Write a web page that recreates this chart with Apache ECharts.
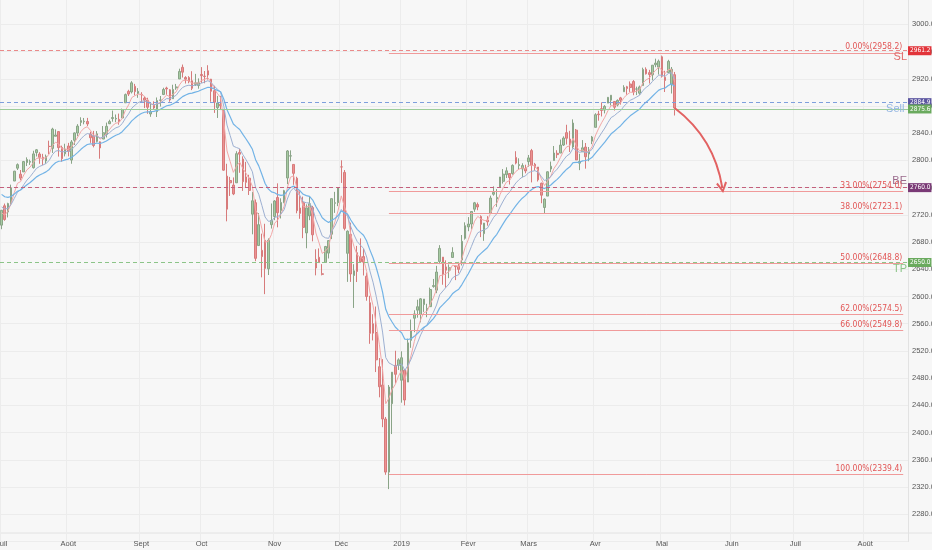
<!DOCTYPE html>
<html><head><meta charset="utf-8">
<script src="https://cdn.jsdelivr.net/npm/echarts@6/dist/echarts.min.js"></script>
<style>html,body{margin:0;padding:0;background:#f7f7f7}#c{width:932px;height:550px}</style>
</head><body><div id="c"></div>
<script>
// ---- warm-up closes (June 2018) used only for the moving averages ----
const jun2018Closes = [2734.6,2746.9,2748.8,2772.4,2770.4,2779.0,2782.0,2786.9,2775.6,2782.5,2779.7,2773.8,2762.6,2767.3,2749.8,2754.9,2717.1,2723.1,2699.6,2716.3,2718.4];

// ---- daily candles [open, close, low, high] ----
const jul2018 = [[2704.9,2726.7,2698.9,2727.3],[2733.3,2713.2,2711.3,2736.6],[2724.2,2736.6,2716.2,2737.8],[2737.7,2759.8,2733.3,2764.4],[2769.7,2784.2,2769.7,2784.7],[2788.6,2793.8,2785.9,2795.6],[2779.8,2774.0,2770.8,2785.9],[2783.1,2798.3,2783.1,2799.2],[2796.9,2801.3,2791.7,2804.5],[2797.4,2798.4,2793.4,2801.2],[2789.3,2809.6,2788.0,2814.2],[2811.4,2815.6,2805.8,2816.8],[2809.4,2804.5,2795.1,2812.1],[2804.6,2801.8,2793.2,2809.7],[2799.2,2806.0,2795.1,2808.6],[2820.7,2820.4,2809.4,2829.0],[2817.7,2846.1,2811.0,2848.0],[2835.5,2837.4,2835.5,2845.6],[2842.4,2818.8,2805.6,2843.2],[2819.0,2802.6,2798.1,2821.7],[2809.7,2816.3,2805.9,2824.5]];
const aug2018 = [[2821.2,2813.4,2805.9,2825.8],[2800.5,2827.2,2795.1,2829.9],[2829.6,2840.4,2822.6,2841.0],[2840.3,2850.4,2835.6,2853.3],[2855.9,2858.5,2850.6,2863.4],[2856.8,2857.7,2853.1,2862.4],[2857.2,2853.6,2850.5,2862.5],[2838.9,2833.3,2825.8,2842.2],[2835.5,2821.9,2819.2,2843.4],[2827.9,2839.1,2826.6,2843.1],[2827.3,2818.4,2802.5,2827.9],[2831.4,2840.7,2831.4,2850.5],[2838.3,2850.1,2833.7,2855.6],[2853.9,2857.1,2853.4,2859.8],[2861.5,2863.0,2856.9,2873.2],[2860.9,2861.8,2856.2,2867.5],[2860.3,2857.0,2852.5,2868.8],[2862.4,2874.7,2862.4,2876.2],[2884.7,2896.7,2884.7,2898.3],[2901.5,2897.5,2894.6,2903.8],[2900.6,2914.0,2898.4,2916.5],[2908.9,2901.1,2895.6,2912.5],[2898.4,2901.5,2892.0,2906.3]];
const sep2018 = [[2896.9,2896.7,2885.3,2900.2],[2891.6,2888.6,2876.9,2894.2],[2888.6,2878.1,2868.5,2892.1],[2868.3,2871.7,2864.1,2883.8],[2881.4,2877.1,2874.0,2886.9],[2871.6,2887.9,2863.8,2892.5],[2888.3,2888.9,2879.2,2894.7],[2896.9,2904.2,2896.0,2906.8],[2906.4,2905.0,2896.4,2908.3],[2903.8,2888.8,2886.2,2904.7],[2890.7,2904.3,2890.4,2911.2],[2906.6,2908.0,2903.8,2912.4],[2919.7,2930.8,2919.7,2934.8],[2936.8,2929.7,2921.8,2940.9],[2921.8,2919.4,2913.0,2923.8],[2921.8,2915.6,2913.4,2923.8],[2917.0,2906.0,2903.3,2931.1],[2911.7,2914.0,2909.4,2927.2],[2910.0,2914.0,2905.4,2920.5]];
const oct2018 = [[2926.3,2924.6,2913.9,2937.1],[2923.8,2923.4,2913.4,2931.4],[2931.7,2925.5,2918.8,2939.9],[2919.4,2901.6,2886.2,2919.8],[2902.5,2885.6,2869.8,2909.6],[2877.5,2884.4,2862.4,2894.8],[2882.5,2880.3,2874.0,2894.8],[2873.9,2785.7,2784.9,2874.0],[2776.9,2728.4,2710.5,2795.1],[2770.5,2767.1,2747.8,2775.8],[2763.8,2750.8,2749.0,2775.0],[2767.1,2809.9,2767.1,2813.5],[2811.7,2809.2,2781.8,2816.9],[2802.0,2768.8,2755.2,2806.0],[2775.7,2767.8,2760.3,2797.8],[2773.9,2755.9,2749.2,2778.9],[2721.0,2740.7,2691.4,2753.6],[2737.9,2656.1,2651.9,2742.6],[2674.9,2705.6,2674.9,2722.7],[2667.9,2658.7,2628.2,2692.4],[2682.7,2641.3,2603.5,2706.9],[2640.7,2682.6,2631.6,2685.4],[2705.6,2711.7,2699.9,2736.7]];
const nov2018 = [[2717.6,2740.4,2712.2,2741.7],[2745.5,2723.1,2701.7,2766.3],[2726.4,2738.3,2714.7,2744.3],[2738.4,2755.5,2737.1,2756.8],[2774.1,2813.9,2765.1,2815.2],[2806.4,2806.8,2798.8,2814.8],[2794.1,2781.0,2764.2,2794.1],[2773.9,2726.2,2722.3,2776.0],[2730.1,2722.2,2714.2,2754.6],[2737.9,2701.6,2685.7,2746.8],[2693.5,2730.2,2670.9,2735.4],[2718.5,2736.3,2712.2,2746.8],[2730.7,2690.7,2681.1,2733.2],[2654.6,2641.9,2631.1,2669.4],[2657.7,2649.9,2649.9,2670.7],[2633.4,2632.6,2631.1,2647.6],[2650.0,2673.5,2650.0,2674.4],[2663.8,2682.2,2655.9,2682.5],[2691.5,2743.8,2684.4,2744.0],[2737.0,2737.8,2722.9,2753.8],[2737.8,2760.2,2732.8,2760.9]];
const dec2018 = [[2790.5,2790.4,2766.9,2800.2],[2782.4,2700.1,2697.2,2785.9],[2663.5,2696.0,2621.5,2697.2],[2691.3,2633.1,2621.5,2708.5],[2630.9,2637.7,2583.2,2647.5],[2664.4,2636.8,2621.3,2674.4],[2658.2,2651.1,2650.3,2685.4],[2658.7,2650.5,2630.9,2670.2],[2629.7,2600.0,2593.8,2635.1],[2590.8,2545.9,2530.5,2601.1],[2559.9,2546.2,2535.5,2574.0],[2547.1,2507.0,2489.0,2585.3],[2496.8,2467.4,2451.9,2509.6],[2470.0,2420.0,2408.0,2508.0],[2420.0,2342.0,2338.0,2423.0],[2342.0,2467.0,2317.0,2470.0],[2442.5,2488.8,2397.9,2489.1],[2498.8,2485.7,2472.9,2520.3],[2498.9,2506.9,2492.1,2509.2]];
const jan2019 = [[2477.0,2510.0,2444.0,2519.5],[2491.9,2447.9,2440.0,2493.1],[2474.3,2531.9,2474.3,2538.1],[2535.6,2549.7,2524.6,2566.2],[2568.1,2574.4,2547.6,2579.8],[2580.0,2585.0,2568.9,2595.3],[2573.5,2596.6,2562.0,2597.8],[2588.1,2596.3,2577.4,2596.3],[2580.3,2582.6,2569.6,2589.3],[2585.1,2610.3,2585.1,2613.1],[2614.8,2616.1,2612.9,2625.8],[2609.3,2636.0,2604.9,2645.1],[2651.3,2670.7,2647.6,2675.5],[2657.9,2632.9,2617.3,2657.9],[2643.5,2638.7,2612.9,2653.2],[2638.8,2642.3,2627.0,2647.2],[2657.4,2664.8,2657.4,2672.4],[2645.0,2643.9,2624.1,2645.0],[2644.9,2640.0,2634.2,2650.9],[2653.6,2681.1,2645.6,2690.4],[2685.5,2704.1,2683.6,2709.0]];
const feb2019 = [[2702.3,2706.5,2696.0,2716.7],[2706.5,2724.9,2698.8,2725.0],[2728.3,2737.7,2724.4,2739.0],[2735.1,2731.6,2726.8,2738.1],[2717.5,2706.1,2687.3,2719.3],[2692.4,2707.9,2681.8,2708.1],[2712.4,2709.8,2704.1,2718.1],[2722.6,2744.7,2722.6,2748.2],[2750.3,2753.0,2748.2,2761.9],[2743.5,2745.7,2731.8,2757.9],[2760.2,2775.6,2760.2,2775.7],[2769.3,2779.8,2766.0,2787.3],[2779.1,2784.7,2774.1,2789.9],[2780.7,2774.9,2764.6,2781.5],[2780.7,2792.7,2779.0,2794.2],[2804.4,2796.1,2794.2,2813.5],[2792.4,2793.9,2786.0,2803.1],[2787.5,2792.4,2775.1,2795.8],[2788.1,2784.5,2781.1,2793.7]];
const mar2019 = [[2798.2,2803.7,2790.8,2808.0],[2814.4,2792.8,2767.7,2816.9],[2794.4,2789.7,2785.0,2796.4],[2790.3,2771.5,2769.0,2790.3],[2766.5,2748.9,2737.1,2767.3],[2730.8,2743.1,2722.3,2744.1],[2747.6,2783.3,2747.6,2784.0],[2787.3,2791.5,2782.8,2798.3],[2799.8,2810.9,2799.8,2821.2],[2810.4,2808.5,2803.5,2815.0],[2810.8,2822.5,2810.8,2830.7],[2822.6,2832.9,2821.2,2835.4],[2840.8,2832.6,2823.4,2852.4],[2831.3,2824.2,2812.4,2843.5],[2819.7,2854.9,2817.4,2860.3],[2844.5,2800.7,2800.5,2846.2],[2796.0,2798.4,2785.7,2809.8],[2812.7,2818.5,2812.7,2829.9],[2819.7,2805.4,2787.9,2825.6],[2809.4,2815.4,2798.8,2819.7],[2828.3,2834.4,2823.9,2836.0]];
const apr2019 = [[2848.6,2867.2,2848.6,2869.4],[2868.2,2867.2,2858.4,2872.9],[2876.1,2873.4,2864.6,2885.3],[2874.0,2879.4,2869.1,2881.3],[2884.2,2892.7,2884.2,2893.2],[2888.5,2895.8,2880.8,2896.0],[2886.6,2878.2,2873.3,2886.9],[2881.4,2888.2,2879.4,2889.7],[2891.9,2888.3,2882.0,2893.4],[2900.9,2907.4,2900.9,2910.5],[2908.3,2905.6,2896.5,2909.6],[2912.3,2907.1,2900.7,2916.1],[2916.0,2900.5,2895.8,2918.0],[2904.8,2905.0,2896.0,2908.4],[2898.8,2908.0,2896.4,2910.0],[2910.0,2933.7,2910.0,2936.3],[2934.0,2927.3,2926.2,2936.8],[2929.0,2926.2,2913.0,2933.1],[2925.8,2939.9,2917.6,2939.9],[2940.6,2943.0,2937.0,2949.5],[2937.1,2945.8,2926.2,2948.2]];
const may2019 = [[2952.3,2923.7,2921.8,2954.1],[2922.2,2917.5,2900.5,2931.7],[2929.2,2945.6,2929.2,2947.9],[2912.0,2934.0,2898.3,2937.3],[2926.0,2877.0,2866.0,2930.0]];

// ---- calendar / axis ----
const firstSession = '2018-07-02';
const totalSlots = 286;
const holidays = ['2018-07-04','2018-09-03','2018-11-22','2018-12-05','2018-12-25','2019-01-01','2019-01-21','2019-02-18','2019-04-19','2019-05-27','2019-07-04'];
const monthNames = ['Janv','Févr','Mars','Avr','Mai','Juin','Juil','Août','Sept','Oct','Nov','Déc'];
const emaPeriods = [5, 10, 20];
const emaColors = ['#f2a7a7', '#9db0d2', '#72b3e6'];

// ---- drawings ----
const slLevel = 2961.2, lastLevel = 2884.9, sellLevel = 2875.6, beLevel = 2760.0, tpLevel = 2650.0;
const fibStart = '2018-12-26', fibEnd = '2019-08-19';
const fibPercents = ['0.00%', '33.00%', '38.00%', '50.00%', '62.00%', '66.00%', '100.00%'];
const fibPrices = [2958.2, 2754.0, 2723.1, 2648.8, 2574.5, 2549.8, 2339.4];
const arrowFrom = ['2019-05-07', 2877];
const arrowTo = ['2019-05-29', 2760];

// ---- build ----
const candles = [].concat(jul2018, aug2018, sep2018, oct2018, nov2018, dec2018, jan2019, feb2019, mar2019, apr2019, may2019);
const categories = [];
(function () {
  const p = firstSession.split('-').map(Number);
  const d = new Date(Date.UTC(p[0], p[1] - 1, p[2]));
  while (categories.length < totalSlots) {
    const wd = d.getUTCDay();
    const s = d.toISOString().slice(0, 10);
    if (wd !== 0 && wd !== 6 && holidays.indexOf(s) < 0) categories.push(s);
    d.setUTCDate(d.getUTCDate() + 1);
  }
})();
const monthStarts = new Set();
categories.forEach((c, i) => { if (i === 0 || c.slice(0, 7) !== categories[i - 1].slice(0, 7)) monthStarts.add(i); });
const idx = (d) => categories.indexOf(d);

// exponential moving averages of the closes (warm-up on June closes)
const allCloses = jun2018Closes.concat(candles.map(c => c[1]));
const off = jun2018Closes.length;
function ema(n) {
  const k = 2 / (n + 1);
  let e = 0;
  for (let i = 0; i < n; i++) e += allCloses[i];
  e /= n;
  const out = [];
  for (let i = n; i < allCloses.length; i++) {
    e = allCloses[i] * k + e * (1 - k);
    if (i >= off) out.push(+e.toFixed(2));
  }
  while (out.length < candles.length) out.unshift(null);
  return out;
}

const font = "'Liberation Sans', 'DejaVu Sans', sans-serif";
const narrow = "'Liberation Sans Narrow', 'DejaVu Sans Condensed', 'Liberation Sans', sans-serif";

function axisTag(v, bg) {
  return { show: true, position: 'end', distance: 0, formatter: v.toFixed(1), color: '#fff', backgroundColor: bg,
           padding: [1, 1, 1, 2], fontSize: 6.5, fontFamily: narrow };
}
function fullLine(v, color, type, tagBg) {
  return { yAxis: v, lineStyle: { color: color, type: type, width: 1 }, label: axisTag(v, tagBg) };
}
function textOnly(v, text, color, pos) {
  return { yAxis: v, lineStyle: { color: 'rgba(0,0,0,0)', width: 0 },
           label: { show: true, position: pos, formatter: text, color: color, opacity: 1,
                    fontSize: 11, fontFamily: font, distance: 1 } };
}

const markData = [
  fullLine(slLevel, '#ea8a8a', [4, 3], '#e2343a'),
  fullLine(lastLevel, '#7e9fdc', [4, 3], '#5b55a0'),
  fullLine(sellLevel, '#9ccc98', 'solid', '#6aaa5e'),
  fullLine(beLevel, '#c4607c', [4, 3], '#7a3a76'),
  fullLine(tpLevel, '#8cc488', [4, 3], '#6aaa5e'),
  textOnly(slLevel, 'SL', '#e06c6c', 'insideEndBottom'),
  textOnly(beLevel, 'BE', '#9a6a8c', 'insideEndTop'),
  textOnly(tpLevel, 'TP', '#8cc488', 'insideEndBottom')
];
fibPrices.forEach((p, i) => {
  markData.push([
    { coord: [idx(fibStart), p], lineStyle: { color: '#f09a9a', type: 'solid', width: 1 },
      label: { show: true, position: 'insideEndTop', formatter: fibPercents[i] + '(' + p.toFixed(1) + ')',
               color: '#e25555', fontSize: 8.5, fontFamily: narrow, distance: 1 } },
    { coord: [idx(fibEnd), p] }
  ]);
});

const series = [{
  type: 'candlestick', data: candles, barWidth: '68%', z: 2,
  itemStyle: { color: '#a6cba2', color0: '#ec9292', borderColor: '#8aa487', borderColor0: '#d77b7b', borderWidth: 1 },
  emphasis: { disabled: true }
}];
emaPeriods.forEach((n, i) => {
  series.push({ type: 'line', data: ema(n), showSymbol: false, symbol: 'none', z: 3,
    lineStyle: { color: emaColors[i], width: n === 20 ? 1.2 : 1 }, emphasis: { disabled: true } });
});
series.push({ type: 'line', data: [], clip: false, z: 4,
  markLine: { silent: true, animation: false, symbol: ['none', 'none'], data: markData },
  markPoint: { silent: true, animation: false, symbol: 'circle', symbolSize: 0,
    data: [{ coord: [categories.length - 1, sellLevel],
             label: { show: true, position: 'left', distance: 2, formatter: 'Sell', color: '#93b6e2',
                      fontSize: 11, fontFamily: font } }] } });
series.push({ type: 'lines', coordinateSystem: 'cartesian2d', z: 5, silent: true,
  symbol: ['none', 'path://M0,9 L5,0 L10,9 L8.4,10 L5,3.6 L1.6,10 Z'], symbolSize: [10, 11],
  lineStyle: { color: '#e26262', width: 2, curveness: 0.2, opacity: 1 },
  data: [{ coords: [[idx(arrowFrom[0]), arrowFrom[1]], [idx(arrowTo[0]), arrowTo[1]]] }] });

const chart = echarts.init(document.getElementById('c'), null, { renderer: 'canvas' });
chart.setOption({
  animation: false,
  backgroundColor: '#f7f7f7',
  grid: { left: 0, right: 24, top: -2.9, bottom: 8.5, containLabel: false, outerBoundsMode: 'none' },
  xAxis: {
    type: 'category', data: categories, boundaryGap: true,
    axisLine: { show: false }, axisTick: { show: false },
    axisLabel: { interval: (i) => monthStarts.has(i), margin: -2, color: '#555', fontSize: 7.5, fontFamily: font,
      formatter: (v) => { const m = +v.slice(5, 7); return m === 1 ? v.slice(0, 4) : monthNames[m - 1]; } },
    splitLine: { show: true, interval: (i) => monthStarts.has(i), lineStyle: { color: '#ececec' } }
  },
  yAxis: {
    type: 'value', position: 'right', min: 2240, max: 3040, interval: 40, scale: true,
    axisLine: { show: true, lineStyle: { color: '#e2e2e2' } }, axisTick: { show: false },
    axisLabel: { margin: 4, color: '#555', fontSize: 7.5, fontFamily: font,
      formatter: (v) => (v <= 2240 || v >= 3040) ? '' : v.toFixed(1) },
    splitLine: { show: true, lineStyle: { color: '#ececec' } }
  },
  graphic: [{ type: 'line', shape: { x1: 0, y1: 533, x2: 932, y2: 533 }, style: { stroke: '#e2e2e2', lineWidth: 1 }, silent: true }],
  series: series
});
</script></body></html>
